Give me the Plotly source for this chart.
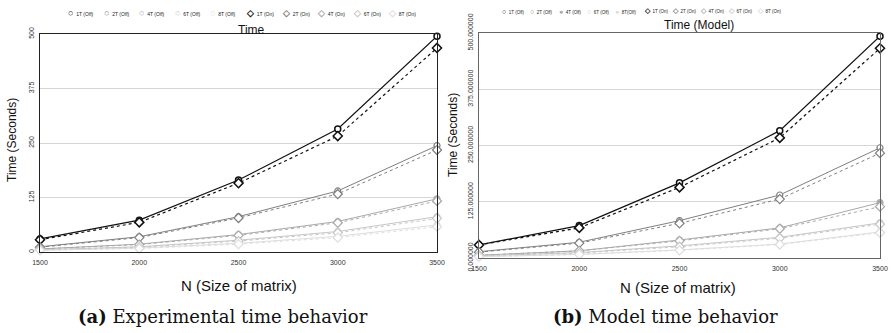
import plotly.graph_objects as go

# ---------------- data ----------------
N = [1500, 2000, 2500, 3000, 3500]
threads = ["1T", "2T", "4T", "6T", "8T"]

# Experimental (left panel)
exp_off = {
    "1T": [30, 73, 165, 282, 495],
    "2T": [12, 35, 81, 140, 244],
    "4T": [7, 18, 40, 70, 122],
    "6T": [5, 12, 27, 47, 81],
    "8T": [4, 9, 20, 36, 62],
}
exp_on = {
    "1T": [28, 68, 158, 266, 468],
    "2T": [11, 33, 78, 133, 234],
    "4T": [7, 17, 38, 67, 117],
    "6T": [5, 11, 25, 44, 77],
    "8T": [4, 8, 18, 33, 58],
}
# Model (right panel)
mod_off = {
    "1T": [29, 72, 167, 283, 493],
    "2T": [14, 35, 83, 140, 245],
    "4T": [6, 16, 40, 67, 123],
    "6T": [5, 12, 27, 46, 78],
    "8T": [3, 8, 18, 31, 58],
}
mod_on = {
    "1T": [29, 67, 157, 267, 466],
    "2T": [13, 33, 77, 131, 233],
    "4T": [6, 16, 38, 65, 114],
    "6T": [5, 11, 25, 44, 75],
    "8T": [3, 8, 17, 30, 56],
}

y_ticks = [0, 125, 250, 375, 500]
left_ytick_text = ["0", "125", "250", "375", "500"]
right_ytick_text = ["0.000000", "125.000000", "250.000000", "375.000000", "500.000000"]
x_ticks = [1500, 2000, 2500, 3000, 3500]

left_legend = ["1T (Off)", "2T (Off)", "4T (Off)", "6T (Off)", "8T (Off)",
               "1T (On)", "2T (On)", "4T (On)", "6T (On)", "8T (On)"]
right_legend = ["1T (Off)", "2T (Off)", "4T (Off)", "6T (Off)", "8T(Off)",
                "1T (On)", "2T (On)", "4T (On)", "6T (On)", "8T (On)"]

colors = {"1T": "#111111", "2T": "#7f7f7f", "4T": "#a9a9a9", "6T": "#c6c6c6", "8T": "#dddddd"}
right_filled_off = {"4T": "#a9a9a9", "8T": "#dddddd"}

# ---------------- layout helpers ----------------
W, H = 893, 333
def px(x):
    return x / W
def py(y):
    return 1 - y / H

SANS = "Liberation Sans, Arial, sans-serif"
SERIF = "DejaVu Serif, serif"

fig = go.Figure()

def add_series(xa, ya, off, on, filled):
    for t in threads:
        c = colors[t]
        fig.add_trace(go.Scatter(
            x=N, y=off[t], xaxis=xa, yaxis=ya, mode="lines+markers",
            line=dict(color=c, width=1.2 if t == "1T" else 1.0),
            marker=dict(symbol="circle", size=6, color=filled.get(t, "white"),
                        line=dict(color=c, width=1.5 if t == "1T" else 1.2)),
            cliponaxis=False, showlegend=False, hoverinfo="skip"))
    for t in threads:
        c = colors[t]
        fig.add_trace(go.Scatter(
            x=N, y=on[t], xaxis=xa, yaxis=ya, mode="lines+markers",
            line=dict(color=c, width=1.2 if t == "1T" else 1.0, dash="dot"),
            marker=dict(symbol="diamond", size=7, color="white",
                        line=dict(color=c, width=1.5 if t == "1T" else 1.2)),
            cliponaxis=False, showlegend=False, hoverinfo="skip"))

add_series("x", "y", exp_off, exp_on, {})
add_series("x2", "y2", mod_off, mod_on, right_filled_off)

xcommon = dict(range=[1500, 3500], tickvals=x_ticks, showgrid=False, zeroline=False,
               ticks="", tickfont=dict(family=SANS, size=7, color="#333"), mirror=True,
               showline=True, automargin=False, ticklabelstandoff=3)
ycommon = dict(range=[0, 500], tickvals=y_ticks, tickmode="array", showgrid=True,
               gridcolor="#d6d6d6", gridwidth=1, zeroline=False, ticks="", tickangle=-90,
               tickfont=dict(family=SANS, size=7, color="#333"), mirror=True, showline=True,
               automargin=False, ticklabelstandoff=2)

fig.update_layout(
    width=W, height=H, margin=dict(l=0, r=0, t=0, b=0, autoexpand=False),
    paper_bgcolor="white", plot_bgcolor="white", showlegend=False,
    xaxis=dict(xcommon, domain=[px(40), px(437)], anchor="y", linecolor="#222", linewidth=1.1),
    yaxis=dict(ycommon, domain=[py(252), py(34)], anchor="x", ticktext=left_ytick_text,
               linecolor="#222", linewidth=1.1),
    xaxis2=dict(xcommon, domain=[px(479), px(880)], anchor="y2", linecolor="#666", linewidth=1.2),
    yaxis2=dict(ycommon, domain=[py(258), py(33)], anchor="x2", ticktext=right_ytick_text,
                linecolor="#666", linewidth=1.2),
)

ann = []
def text(x, y, s, size, family=SANS, angle=0, color="#111", xanchor="center"):
    ann.append(dict(x=px(x), y=py(y), xref="paper", yref="paper", text=s, showarrow=False,
                    font=dict(family=family, size=size, color=color), textangle=angle,
                    xanchor=xanchor, yanchor="middle"))

# titles
text(252, 30, "Time", 12)
text(699, 25, "Time (Model)", 12)
# axis titles
text(12, 140, "Time (Seconds)", 12, angle=-90)
text(453, 135, "Time (Seconds)", 12, angle=-90)
text(239, 285, "N (Size of matrix)", 15)
text(678, 287, "N (Size of matrix)", 15)
# captions
text(223, 316, "<b>(a)</b> Experimental time behavior", 18, family=SERIF)
text(665, 316, "<b>(b)</b> Model time behavior", 18, family=SERIF)

# legends
def legend_row(x0, step, y, labels, filled, sym_size, txt_size):
    for i, lab in enumerate(labels):
        t = lab[:2]
        on = "On" in lab
        c = colors[t]
        sym = "◇" if on else ("●" if (t in filled) else "○")
        s = f"<span style='color:{c};font-size:{sym_size}px'><b>{sym}</b></span>  {lab}"
        text(x0 + step * i - 4, y, s, txt_size, color="#222", xanchor="left")

legend_row(70, 35.6, 13, left_legend, {}, 9, 5)
legend_row(504, 28.3, 11, right_legend, right_filled_off, 7, 4.5)

fig.update_layout(annotations=ann)
fig.write_html("out.html", config={"displayModeBar": False, "staticPlot": True},
               post_script="document.body.style.margin='0';document.body.style.overflow='hidden';")
